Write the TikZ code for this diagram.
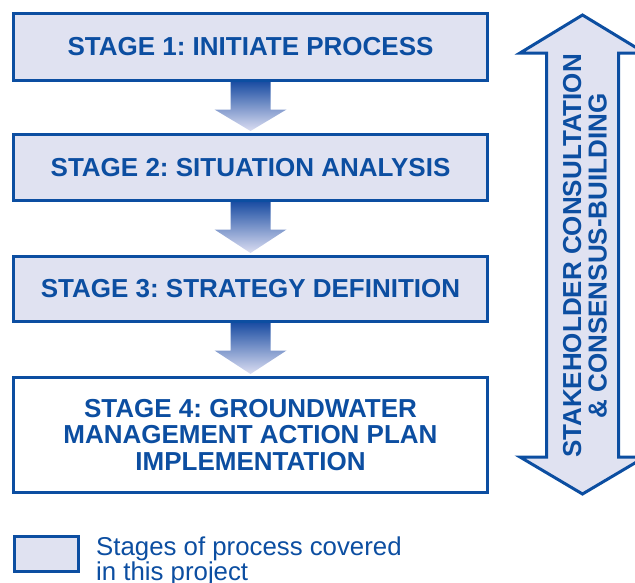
\documentclass[tikz,border=0pt]{standalone}
\usepackage{fontspec}
\setmainfont{Liberation Sans}
\usetikzlibrary{calc}
\frenchspacing

\definecolor{stageblue}{RGB}{12,78,161}
\definecolor{stagefill}{RGB}{224,226,241}
\definecolor{flowtop}{RGB}{28,78,163}
\definecolor{flowbottom}{RGB}{220,222,242}

\tikzset{
  stagebox/.style={draw=stageblue, line width=3pt, fill=stagefill,
    minimum width=474pt, inner sep=0pt, align=center, text=stageblue,
    font=\fontsize{26}{26.5}\selectfont\bfseries},
  openbox/.style={stagebox, fill=white},
  flowarrow/.style={top color=flowtop, bottom color=flowbottom, draw=none},
  sidearrow/.style={draw=stageblue, line width=3pt, fill=stagefill, line join=miter},
  sidelabel/.style={text=stageblue, align=center, inner sep=0pt,
    font=\fontsize{26}{25.5}\selectfont\bfseries},
  legendtext/.style={text=stageblue, align=left, inner sep=0pt,
    font=\fontsize{25.8}{22.5}\selectfont}
}

\begin{document}
\begin{tikzpicture}[x=1pt, y=-1pt]
  \useasboundingbox (0,0) rectangle (635,582);
  \clip (0,0) rectangle (635,582);

  % stages of the process
  \node[stagebox, minimum height=67pt] (s1) at (250.5,47) {STAGE 1: INITIATE PROCESS};
  \node[stagebox, minimum height=66pt] (s2) at (250.5,167.5) {STAGE 2: SITUATION ANALYSIS};
  \node[stagebox, minimum height=65pt] (s3) at (250.5,289) {STAGE 3: STRATEGY DEFINITION};
  \node[openbox, minimum height=115pt] (s4) at (250.5,435)
    {STAGE 4: GROUNDWATER\\MANAGEMENT ACTION PLAN\\IMPLEMENTATION};

  % shaded arrows leading from one stage to the next
  \foreach \a/\b in {s1/s2, s2/s3, s3/s4}{
    \shade[flowarrow]
      let \p1 = (\a.south), \p2 = (\b.north) in
      (\x1-20, \y1) -- (\x1+20, \y1)
      -- (\x1+20, \y1-27.5) -- (\x1+36, \y1-27.5)
      -- (\x1, \y2+2) -- (\x1-36, \y1-27.5)
      -- (\x1-20, \y1-27.5) -- cycle;
  }

  % two-headed arrow alongside the stages
  \coordinate (tipA) at (582.5,15);
  \coordinate (tipB) at (582.5,494);
  \draw[sidearrow]
    (tipA) -- (645,53) -- (618.5,53) -- (618.5,457) -- (645,457)
    -- (tipB) -- (520,457) -- (546.5,457) -- (546.5,53) -- (520,53) -- cycle;
  \node[sidelabel, rotate=90] (side) at (585,256)
    {STAKEHOLDER CONSULTATION\\\& CONSENSUS-BUILDING};

  % legend
  \node[draw=stageblue, line width=3pt, fill=stagefill, minimum width=64pt,
    minimum height=35pt, inner sep=0pt] (key) at (46.5,554) {};
  \node[legendtext, anchor=north west] (keytext) at (96,537)
    {Stages of process covered\\in this project};
\end{tikzpicture}
\end{document}
